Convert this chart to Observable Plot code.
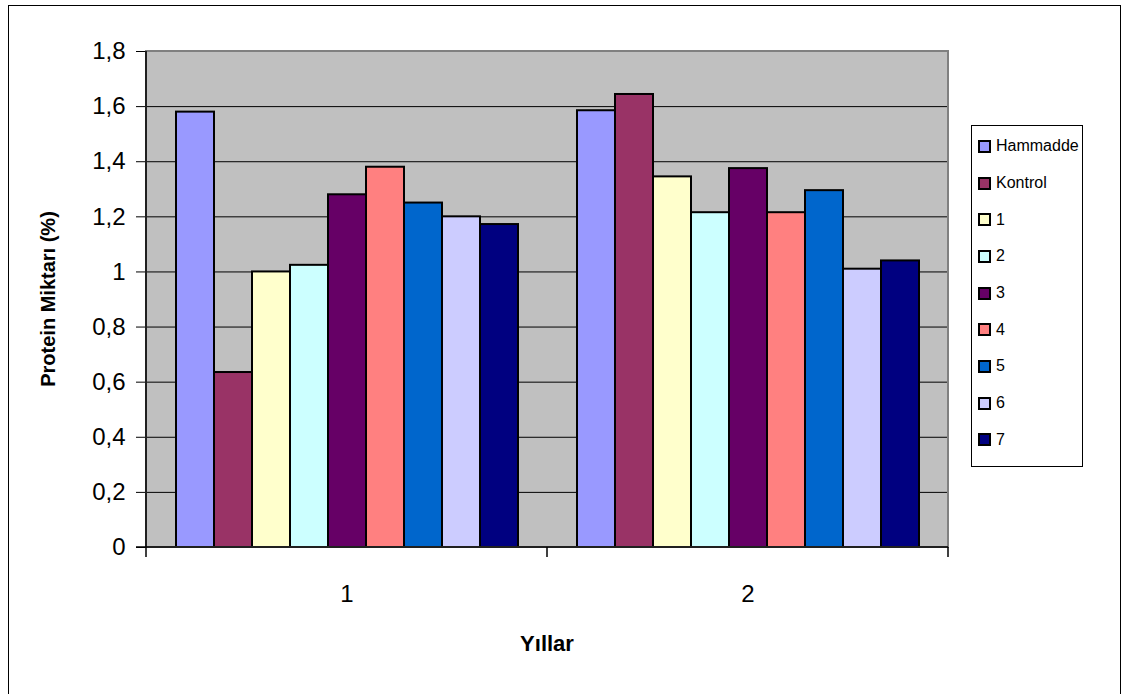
<!DOCTYPE html>
<html>
<head>
<meta charset="utf-8">
<script src="https://cdn.jsdelivr.net/npm/d3@7"></script>
<script src="https://cdn.jsdelivr.net/npm/@observablehq/plot@0.6"></script>
<style>
  html, body { margin: 0; padding: 0; background: #fff; overflow: hidden; }
  #wrap { position: relative; width: 1122px; height: 694px; font-family: "Liberation Sans", Arial, sans-serif; }
  #border { position: absolute; left: 8px; top: 5px; width: 1113px; height: 700px; border: 1.5px solid #000; box-sizing: border-box; }
  #chart { position: absolute; left: 0; top: 0; }
  #legend { position: absolute; left: 971px; top: 125px; width: 112px; height: 342px; border: 1.5px solid #000; box-sizing: border-box; background: #fff; padding-top: 2px; }
  .item { display: flex; align-items: center; height: 36.7px; font-size: 16px; color: #000; }
  .sw { width: 13px; height: 13px; border: 2px solid #000; box-sizing: border-box; margin-left: 6px; margin-right: 5px; }
</style>
</head>
<body>
<div id="wrap">
  <div id="border"></div>
  <div id="chart"></div>
  <div id="legend"></div>
</div>
<script>
// Protein content by year for the raw material, the control and seven treatments
const years = ["1", "2"];
const series = ["Hammadde", "Kontrol", "1", "2", "3", "4", "5", "6", "7"];
const colors = ["#9999FF", "#993366", "#FFFFCC", "#CCFFFF", "#660066", "#FF8080", "#0066CC", "#CCCCFF", "#000080"];
const year1Values = [1.58, 0.635, 1.0, 1.024, 1.28, 1.38, 1.25, 1.2, 1.172];
const year2Values = [1.585, 1.644, 1.345, 1.215, 1.375, 1.215, 1.295, 1.01, 1.04];
const yTicks = [0, 0.2, 0.4, 0.6, 0.8, 1, 1.2, 1.4, 1.6, 1.8];
const yTitle = "Protein Miktarı (%)";
const xTitle = "Yıllar";

const valuesByYear = [year1Values, year2Values];
const data = years.flatMap((year, i) =>
  series.map((s, j) => ({year, series: s, value: valuesByYear[i][j]}))
);

const fmt = d => String(d).replace(".", ",");

const chart = Plot.plot({
  width: 1122,
  height: 694,
  marginLeft: 146,
  marginRight: 174,
  marginTop: 51,
  marginBottom: 147,
  style: {fontFamily: "'Liberation Sans', Arial, sans-serif", background: "transparent", color: "#000"},
  fx: {domain: years, padding: 0, axis: null},
  x: {domain: series, paddingInner: 0, paddingOuter: 0.75, axis: null},
  y: {domain: [0, 1.8], axis: null},
  color: {domain: series, range: colors},
  marks: [
    Plot.gridY(yTicks.slice(1, -1), {stroke: "#000", strokeOpacity: 1, strokeWidth: 1}),
    Plot.barY(data, {fx: "year", x: "series", y: "value", fill: "series", stroke: "#000", strokeWidth: 2}),
    Plot.axisY(yTicks, {anchor: "left", tickSize: 10, tickPadding: 11, fontSize: 24, tickFormat: fmt, label: null}),
    Plot.axisFx({anchor: "bottom", tickSize: 0, tickPadding: 37, fontSize: 24, label: null})
  ]
});
document.getElementById("chart").append(chart);

// Plot-area background and outline, axis lines, category separators and axis titles
const fxScale = chart.scale("fx");
const yScale = chart.scale("y");
const areaLeft = fxScale.apply(years[0]);
const areaRight = fxScale.apply(years[years.length - 1]) + fxScale.bandwidth;
const areaTop = yScale.apply(1.8);
const areaBottom = yScale.apply(0);
const svg = d3.select(chart);
svg.insert("rect", ":first-child")
  .attr("x", areaLeft).attr("y", areaTop).attr("width", areaRight - areaLeft).attr("height", areaBottom - areaTop)
  .attr("fill", "#C0C0C0");
const g = svg.append("g");
g.append("rect").attr("x", areaLeft).attr("y", areaTop).attr("width", areaRight - areaLeft).attr("height", areaBottom - areaTop)
  .attr("fill", "none").attr("stroke", "#808080").attr("stroke-width", 2);
g.append("line").attr("x1", areaLeft).attr("x2", areaLeft).attr("y1", areaTop).attr("y2", areaBottom)
  .attr("stroke", "#000").attr("stroke-width", 1.5);
g.append("line").attr("x1", areaLeft - 10).attr("x2", areaRight).attr("y1", areaBottom).attr("y2", areaBottom)
  .attr("stroke", "#000").attr("stroke-width", 1.5);
const bounds = years.map(d => fxScale.apply(d)).concat([areaRight]);
g.selectAll(".sep").data(bounds).join("line")
  .attr("x1", d => d).attr("x2", d => d).attr("y1", areaBottom).attr("y2", areaBottom + 10)
  .attr("stroke", "#000").attr("stroke-width", 1.5);
g.append("text").text(xTitle)
  .attr("x", (areaLeft + areaRight) / 2).attr("y", areaBottom + 96)
  .attr("text-anchor", "middle").attr("dy", "0.35em")
  .attr("font-size", 22).attr("font-weight", "bold").attr("fill", "#000");
g.append("text").text(yTitle)
  .attr("transform", `translate(48,${(areaTop + areaBottom) / 2}) rotate(-90)`)
  .attr("text-anchor", "middle").attr("dy", "0.35em")
  .attr("font-size", 20).attr("font-weight", "bold").attr("fill", "#000");

// Legend
const legend = d3.select("#legend");
series.forEach((s, i) => {
  const item = legend.append("div").attr("class", "item");
  item.append("div").attr("class", "sw").style("background", colors[i]);
  item.append("span").text(s);
});
</script>
</body>
</html>
